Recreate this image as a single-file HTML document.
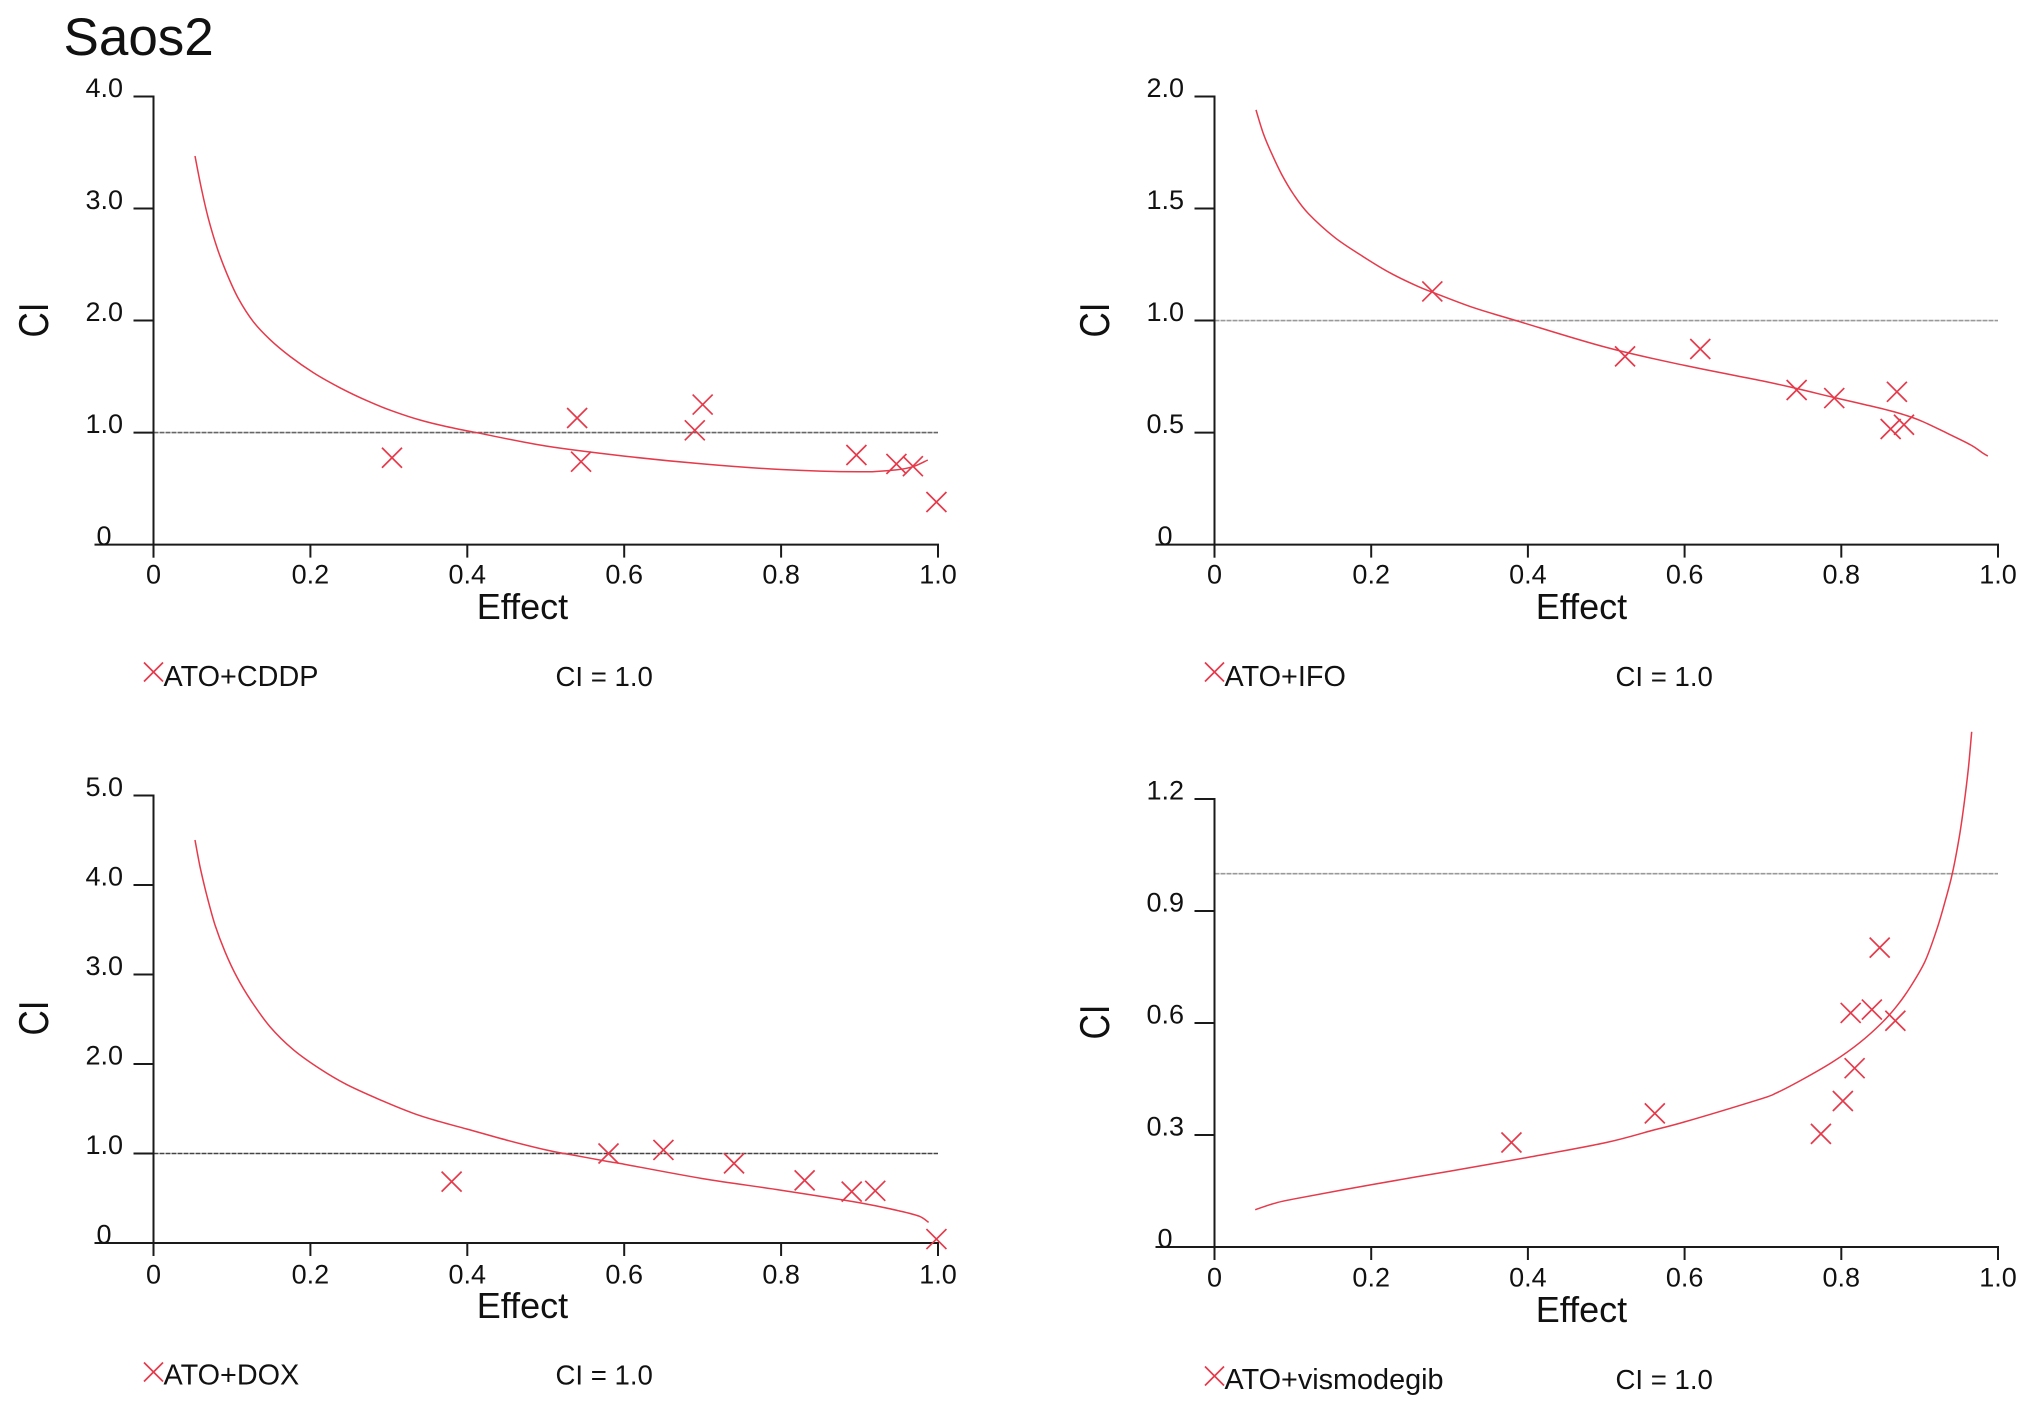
<!DOCTYPE html>
<html lang="en">
<head>
<meta charset="utf-8">
<title>Saos2 combination index plots</title>
<style>
  html, body { margin: 0; padding: 0; background: #fff; }
  #figure { display: block; width: 2031px; height: 1408px; background: #fff; }
  text { font-family: "Liberation Sans", Arial, sans-serif; fill: #111; }
</style>
</head>
<body>
<svg id="figure" xmlns="http://www.w3.org/2000/svg" width="2031" height="1408" viewBox="0 0 2031 1408">
  <text x="63.5" y="55" font-size="53">Saos2</text>
</svg>
<script>
// Shared axis ticks
const xTickValues = [0, 0.2, 0.4, 0.6, 0.8, 1.0];
const xTickLabels = ["0", "0.2", "0.4", "0.6", "0.8", "1.0"];

// ATO+CDDP
const cddpYTickValues = [0, 1, 2, 3, 4];
const cddpYTickLabels = ["0", "1.0", "2.0", "3.0", "4.0"];
const cddpCurveEffect = [0.0529, 0.0614, 0.0699, 0.0805, 0.0933, 0.1081, 0.1272, 0.1485, 0.174, 0.2037, 0.2377, 0.2718, 0.3057, 0.3397, 0.3737, 0.412, 0.5, 0.6, 0.7, 0.8, 0.9, 0.945, 0.968, 0.987];
const cddpCurveCI = [3.469, 3.166, 2.913, 2.66, 2.422, 2.198, 1.99, 1.83, 1.68, 1.535, 1.40, 1.285, 1.19, 1.112, 1.053, 0.999, 0.88, 0.79, 0.72, 0.67, 0.65, 0.666, 0.695, 0.755];
const cddpPointEffect = [0.304, 0.54, 0.545, 0.69, 0.70, 0.896, 0.947, 0.968, 0.998];
const cddpPointCI = [0.775, 1.13, 0.74, 1.02, 1.25, 0.80, 0.72, 0.70, 0.38];

// ATO+IFO
const ifoYTickValues = [0, 0.5, 1, 1.5, 2];
const ifoYTickLabels = ["0", "0.5", "1.0", "1.5", "2.0"];
const ifoCurveEffect = [0.053, 0.0623, 0.073, 0.0858, 0.1006, 0.1197, 0.1538, 0.1899, 0.224, 0.258, 0.2785, 0.3303, 0.385, 0.5, 0.6, 0.7, 0.745, 0.79, 0.83, 0.87, 0.9, 0.935, 0.965, 0.98, 0.987];
const ifoCurveCI = [1.94, 1.835, 1.745, 1.652, 1.565, 1.478, 1.37, 1.285, 1.213, 1.155, 1.126, 1.058, 1.0, 0.88, 0.80, 0.73, 0.695, 0.657, 0.625, 0.59, 0.555, 0.497, 0.445, 0.41, 0.395];
const ifoPointEffect = [0.278, 0.524, 0.62, 0.743, 0.791, 0.871, 0.863, 0.88];
const ifoPointCI = [1.13, 0.84, 0.873, 0.69, 0.654, 0.682, 0.516, 0.535];

// ATO+DOX
const doxYTickValues = [0, 1, 2, 3, 4, 5];
const doxYTickLabels = ["0", "1.0", "2.0", "3.0", "4.0", "5.0"];
const doxCurveEffect = [0.0529, 0.0593, 0.0678, 0.0784, 0.0911, 0.106, 0.1252, 0.1485, 0.1782, 0.2122, 0.2463, 0.2887, 0.3312, 0.3652, 0.3992, 0.45, 0.5, 0.53, 0.58, 0.6, 0.7, 0.8, 0.9, 0.95, 0.976, 0.988];
const doxCurveCI = [4.503, 4.205, 3.888, 3.553, 3.255, 2.976, 2.696, 2.417, 2.16, 1.945, 1.77, 1.60, 1.449, 1.355, 1.274, 1.15, 1.04, 0.99, 0.91, 0.88, 0.72, 0.59, 0.45, 0.36, 0.30, 0.23];
const doxPointEffect = [0.38, 0.58, 0.65, 0.74, 0.83, 0.89, 0.92, 0.998];
const doxPointCI = [0.686, 1.0, 1.04, 0.89, 0.70, 0.574, 0.583, 0.044];

// ATO+vismodegib
const visYTickValues = [0, 0.3, 0.6, 0.9, 1.2];
const visYTickLabels = ["0", "0.3", "0.6", "0.9", "1.2"];
const visCurveEffect = [0.052, 0.075, 0.1, 0.2, 0.3, 0.4, 0.5, 0.56, 0.6, 0.6962, 0.7176, 0.7515, 0.7898, 0.8239, 0.8516, 0.8707, 0.8877, 0.9068, 0.9218, 0.9324, 0.94, 0.9451, 0.9515, 0.9566, 0.9621, 0.9664];
const visCurveCI = [0.10, 0.116, 0.128, 0.167, 0.203, 0.24, 0.28, 0.313, 0.335, 0.396, 0.413, 0.45, 0.497, 0.548, 0.60, 0.645, 0.695, 0.765, 0.85, 0.925, 0.985, 1.035, 1.11, 1.185, 1.28, 1.38];
const visPointEffect = [0.379, 0.562, 0.774, 0.802, 0.817, 0.812, 0.839, 0.849, 0.869];
const visPointCI = [0.28, 0.358, 0.303, 0.391, 0.479, 0.627, 0.636, 0.802, 0.606];

const NS = "http://www.w3.org/2000/svg";
const figure = document.getElementById("figure");
const RED = "#e6394a";

function make(parent, tag, attrs, content) {
  const el = document.createElementNS(NS, tag);
  for (const key in attrs) el.setAttribute(key, attrs[key]);
  if (content !== undefined) el.textContent = content;
  parent.appendChild(el);
  return el;
}

function smoothPath(px, py) {
  let d = "M" + px[0].toFixed(1) + " " + py[0].toFixed(1);
  for (let i = 0; i < px.length - 1; i++) {
    const a = Math.max(i - 1, 0), b = i + 1, c = Math.min(i + 2, px.length - 1);
    const c1x = px[i] + (px[b] - px[a]) / 6, c1y = py[i] + (py[b] - py[a]) / 6;
    const c2x = px[b] - (px[c] - px[i]) / 6, c2y = py[b] - (py[c] - py[i]) / 6;
    d += "C" + c1x.toFixed(1) + " " + c1y.toFixed(1) + " " + c2x.toFixed(1) + " " + c2y.toFixed(1) + " " + px[b].toFixed(1) + " " + py[b].toFixed(1);
  }
  return d;
}

function drawCross(parent, cx, cy, r) {
  return make(parent, "path", {
    d: "M" + (cx - r) + " " + (cy - r) + "L" + (cx + r) + " " + (cy + r) + "M" + (cx - r) + " " + (cy + r) + "L" + (cx + r) + " " + (cy - r),
    fill: "none", stroke: RED, "stroke-width": 1.7
  });
}

function drawPanel(p) {
  const panel = make(figure, "g", {});
  
  

  const xScale = v => p.left + (p.right - p.left) * v;
  const yMax = p.yValues[p.yValues.length - 1];
  const yScale = v => p.bottom - (p.bottom - p.top) * v / yMax;

  // reference line
  const ref = make(panel, "line", {
    x1: p.left, x2: p.right, y1: yScale(1), y2: yScale(1),
    stroke: p.refColor, "stroke-width": 1.6, "stroke-dasharray": "5 1"
  });
  
  

  // axes
  const yAxis = make(panel, "line", { x1: p.left, x2: p.left, y1: p.top - 1, y2: p.bottom + 13, stroke: "#1a1a1a", "stroke-width": 2 });
  
  
  const xAxis = make(panel, "line", { x1: p.left - 59, x2: p.right + 1, y1: p.bottom, y2: p.bottom, stroke: "#1a1a1a", "stroke-width": 2 });
  
  

  // x ticks
  xTickValues.forEach((v, i) => {
    const tick = make(panel, "line", { x1: xScale(v), x2: xScale(v), y1: p.bottom, y2: p.bottom + 13, stroke: "#1a1a1a", "stroke-width": 2 });
    
    
    const label = make(panel, "text", { x: xScale(v), y: p.bottom + p.xLabelDy - 0.5, "font-size": 27, "text-anchor": "middle" }, xTickLabels[i]);
    
    
  });

  // y ticks
  p.yValues.forEach((v, i) => {
    if (v !== 0) {
      const tick = make(panel, "line", { x1: p.left - 20, x2: p.left, y1: yScale(v), y2: yScale(v), stroke: "#1a1a1a", "stroke-width": 2 });
      
      
    }
    const label = make(panel, "text", { x: p.left - (v === 0 ? 42 : 30.5), y: yScale(v) + 0.5, "font-size": 27, "text-anchor": "end" }, p.yLabels[i]);
    
    
  });

  // axis titles
  const xTitle = make(panel, "text", { x: p.xTitleX, y: p.xTitleY, "font-size": 36, "text-anchor": "middle" }, "Effect");
  
  
  const yTitleX = p.left - 105.5;
  const yTitle = make(panel, "text", { x: 0, y: 0, "font-size": 35, "text-anchor": "middle", transform: "translate(" + yTitleX + " " + p.yTitleY + ") rotate(-90) scale(1 1.18)" }, "CI");
  
  

  // fitted curve
  const curve = make(panel, "path", {
    d: smoothPath(p.curveX.map(xScale), p.curveY.map(yScale)),
    fill: "none", stroke: RED, "stroke-width": 1.5
  });
  
  

  // data points
  p.pointX.forEach((v, i) => {
    const mark = drawCross(panel, xScale(v), yScale(p.pointY[i]), 10);
    
    
  });

  // legend
  const legendMark = drawCross(panel, p.left, p.legendY - p.legendMarkDy, 9.5);
  
  
  const legendLabel = make(panel, "text", { x: p.left + 10, y: p.legendY, "font-size": 28.8 }, p.name);
  
  
  const refLabel = make(panel, "text", { x: p.refLabelX, y: p.legendY, "font-size": 27.6 }, "CI = 1.0");
  
  
}

drawPanel({
  key: "ato-cddp", name: "ATO+CDDP",
  left: 153.5, right: 938, top: 96.5, bottom: 544.6,
  xLabelDy: 39.5, xTitleX: 522.5, xTitleY: 619, yTitleY: 320, legendY: 686, legendMarkDy: 14, refLabelX: 555.5, refColor: "#666",
  yValues: cddpYTickValues, yLabels: cddpYTickLabels,
  curveX: cddpCurveEffect, curveY: cddpCurveCI, pointX: cddpPointEffect, pointY: cddpPointCI
});
drawPanel({
  key: "ato-ifo", name: "ATO+IFO",
  left: 1214.5, right: 1998, top: 96.5, bottom: 544.6,
  xLabelDy: 39.5, xTitleX: 1581.5, xTitleY: 619, yTitleY: 320, legendY: 686, legendMarkDy: 14, refLabelX: 1615.5, refColor: "#999",
  yValues: ifoYTickValues, yLabels: ifoYTickLabels,
  curveX: ifoCurveEffect, curveY: ifoCurveCI, pointX: ifoPointEffect, pointY: ifoPointCI
});
drawPanel({
  key: "ato-dox", name: "ATO+DOX",
  left: 153.5, right: 938, top: 795.5, bottom: 1243,
  xLabelDy: 41, xTitleX: 522.5, xTitleY: 1318, yTitleY: 1018, legendY: 1384.5, legendMarkDy: 12.5, refLabelX: 555.5, refColor: "#444",
  yValues: doxYTickValues, yLabels: doxYTickLabels,
  curveX: doxCurveEffect, curveY: doxCurveCI, pointX: doxPointEffect, pointY: doxPointCI
});
drawPanel({
  key: "ato-vismodegib", name: "ATO+vismodegib",
  left: 1214.5, right: 1998, top: 799, bottom: 1247,
  xLabelDy: 40, xTitleX: 1581.5, xTitleY: 1322, yTitleY: 1022, legendY: 1389, legendMarkDy: 13, refLabelX: 1615.5, refColor: "#999",
  yValues: visYTickValues, yLabels: visYTickLabels,
  curveX: visCurveEffect, curveY: visCurveCI, pointX: visPointEffect, pointY: visPointCI
});
</script>
</body>
</html>
